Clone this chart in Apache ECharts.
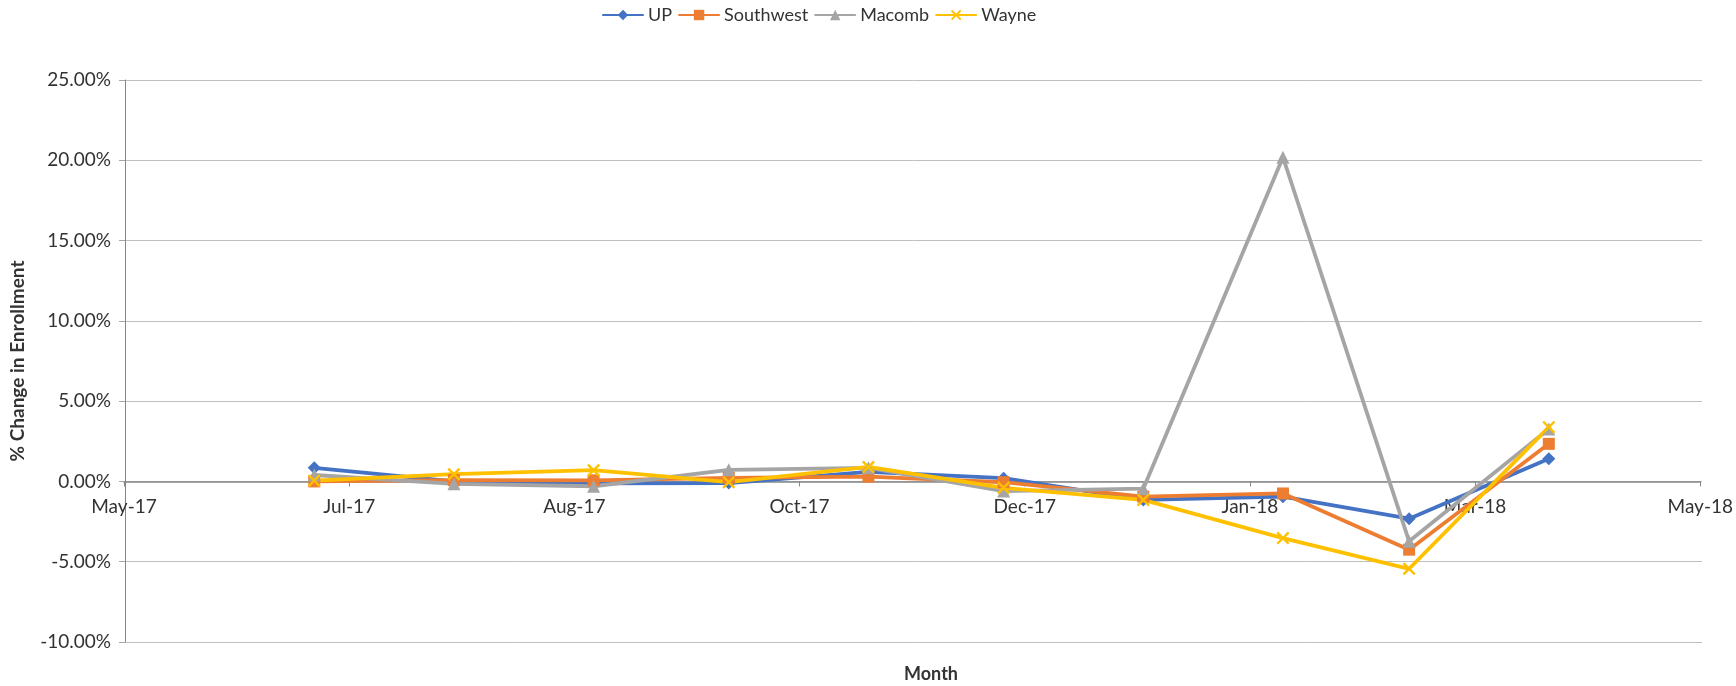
<!DOCTYPE html>
<html>
<head>
<meta charset="utf-8">
<script src="https://cdn.jsdelivr.net/npm/echarts@6/dist/echarts.min.js"></script>
<style>
  html, body { margin: 0; padding: 0; background: #ffffff; }
  #chart { width: 1736px; height: 686px; }
</style>
</head>
<body>
<div id="chart"></div>
<script>
// ---- data (percent change in enrollment) ----
const months = ['2017-07-01','2017-08-01','2017-09-01','2017-10-01','2017-11-01',
                '2017-12-01','2018-01-01','2018-02-01','2018-03-01','2018-04-01'];
const upValues        = [0.85, 0.00, -0.12, -0.10, 0.60, 0.20, -1.15, -0.95, -2.32, 1.41];
const southwestValues = [0.00, 0.08,  0.07,  0.22, 0.30, -0.05, -0.95, -0.75, -4.25, 2.34];
const macombValues    = [0.40, -0.15, -0.30, 0.72, 0.85, -0.60, -0.45, 20.19, -3.73, 3.26];
const wayneValues     = [0.05, 0.45,  0.70, -0.05, 0.90, -0.40, -1.15, -3.53, -5.44, 3.38];
const seriesNames = ['UP', 'Southwest', 'Macomb', 'Wayne'];
// x axis: date axis from 2017-05-20, major unit 50 days
const axisStartDate = '2017-05-20';
const axisMajorDays = 50;
const axisMajorCount = 7;
// y axis
const yMin = -10, yMax = 25, yStep = 5;

const DAY = 86400000;
function dayNum(s) { return Math.round(Date.parse(s + 'T00:00:00Z') / DAY); }
const MON = ['Jan','Feb','Mar','Apr','May','Jun','Jul','Aug','Sep','Oct','Nov','Dec'];
function fmtDay(d) {
  const dt = new Date(Math.round(d) * DAY);
  return MON[dt.getUTCMonth()] + '-' + String(dt.getUTCFullYear() % 100).padStart(2, '0');
}
const xMin = dayNum(axisStartDate);
const xMax = xMin + axisMajorDays * axisMajorCount;
const xTickValues = [];
for (let k = 0; k <= axisMajorCount; k++) xTickValues.push(xMin + k * axisMajorDays);

const xs = months.map(dayNum);
function pairs(vals) { return xs.map((x, i) => [x, vals[i]]); }

// layout
const W = 1736, H = 686;
const gLeft = 124, gRight = 34, gTop = 80, gBottom = 44;
const plotH = H - gTop - gBottom;
const zeroY = gTop + plotH * (yMax - 0) / (yMax - yMin);

const FONT = 'Lato';
const TXT = '#333333';
const xSym = 'path://M0,1.3L1.3,0L5,3.7L8.7,0L10,1.3L6.3,5L10,8.7L8.7,10L5,6.3L1.3,10L0,8.7L3.7,5Z';

const chart = echarts.init(document.getElementById('chart'), null, { renderer: 'canvas' });
const mk = (name, vals, color, symbol, size) => ({
  name, type: 'line', data: pairs(vals),
  xAxisIndex: 0, yAxisIndex: 0,
  symbol, symbolSize: size,
  showAllSymbol: true,
  lineStyle: { color, width: 3.8, join: 'round', cap: 'round' },
  itemStyle: { color, borderWidth: 0 },
  emphasis: { disabled: true },
  z: 3
});

chart.setOption({
  animation: false,
  backgroundColor: '#ffffff',
  textStyle: { fontFamily: FONT },
  legend: {
    data: seriesNames,
    left: 597, top: 1,
    itemWidth: 40, itemHeight: 13, itemGap: 6,
    textStyle: { fontFamily: FONT, fontSize: 18, color: TXT },
  },
  title: {
    text: 'Month',
    left: 926, top: 660, textAlign: 'center',
    textStyle: { fontFamily: FONT, fontSize: 18, fontWeight: 'bold', color: TXT }
  },
  grid: [
    { left: gLeft, right: gRight, top: gTop, bottom: gBottom, containLabel: false },
    { left: gLeft, right: gRight, top: gTop, bottom: H - zeroY, containLabel: false }
  ],
  xAxis: [
    {
      type: 'value', gridIndex: 0,
      min: xMin, max: xMax,
      axisLine: { show: false },
      axisTick: { show: false },
      axisLabel: { show: false },
      splitLine: { show: false }
    },
    {
      type: 'value', gridIndex: 1,
      min: xMin, max: xMax,
      position: 'bottom',
      axisLine: { show: true, onZero: false, lineStyle: { color: '#868686', width: 1.5 } },
      axisTick: { show: true, customValues: xTickValues, length: 5, lineStyle: { color: '#868686', width: 1 } },
      axisLabel: {
        customValues: xTickValues,
        formatter: v => fmtDay(v),
        fontFamily: FONT, fontSize: 19, color: TXT, margin: 16,
        showMinLabel: true, showMaxLabel: true
      },
      splitLine: { show: false }
    }
  ],
  yAxis: [
    {
      type: 'value', gridIndex: 0,
      min: yMin, max: yMax, interval: yStep,
      name: '% Change in Enrollment',
      nameLocation: 'middle', nameGap: 98, nameRotate: 90,
      nameTextStyle: { fontFamily: FONT, fontSize: 19, fontWeight: 'bold', color: TXT },
      axisLine: { show: true, onZero: false, lineStyle: { color: '#868686', width: 1 } },
      axisTick: { show: true, length: 6, lineStyle: { color: '#A6A6A6' } },
      axisLabel: {
        formatter: v => v.toFixed(2) + '%',
        fontFamily: FONT, fontSize: 19, color: TXT, margin: 14
      },
      splitLine: { show: true, lineStyle: { color: '#BFBFBF', width: 1 } }
    },
    {
      type: 'value', gridIndex: 1, min: 0, max: 1, show: false
    }
  ],
  series: [
    mk('UP', upValues, '#4472C4', 'diamond', 13),
    mk('Southwest', southwestValues, '#ED7D31', 'rect', 12),
    mk('Macomb', macombValues, '#A5A5A5', 'triangle', 13),
    mk('Wayne', wayneValues, '#FFC000', xSym, 13)
  ]
});
</script>
</body>
</html>
